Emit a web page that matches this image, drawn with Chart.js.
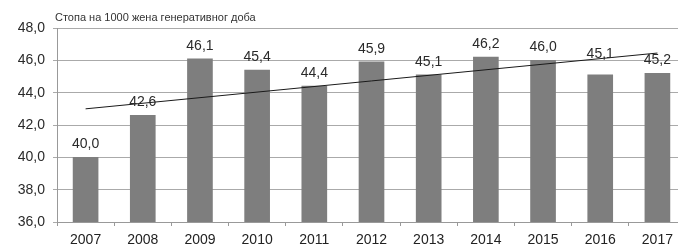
<!DOCTYPE html>
<html lang="sr">
<head>
  <meta charset="UTF-8" />
  <title>Стопа на 1000 жена генеративног доба</title>
  <script src="https://cdn.jsdelivr.net/npm/chart.js"></script>
  <style>
    html, body {
      margin: 0;
      padding: 0;
      background: #fff;
      overflow: hidden;
    }
    .chart-container {
      position: relative;
      width: 688px;
      height: 245px;
    }
  </style>
</head>
<body>
  <div class="chart-container">
    <canvas id="rateChart"></canvas>
  </div>

  <script>
    const chartTitle = 'Стопа на 1000 жена генеративног доба';
    const years = ['2007', '2008', '2009', '2010', '2011', '2012', '2013', '2014', '2015', '2016', '2017'];
    const rates = [40.0, 42.6, 46.1, 45.4, 44.4, 45.9, 45.1, 46.2, 46.0, 45.1, 45.2];
    // trend line ends (first and last year)
    const trend = [43.0, null, null, null, null, null, null, null, null, null, 46.45];
    const yTicks = [36, 38, 40, 42, 44, 46, 48];

    const fmt = v => v.toFixed(1).replace('.', ',');

    const textPlugin = {
      id: 'textPlugin',
      afterDatasetsDraw(chart) {
        const ctx = chart.ctx;
        const area = chart.chartArea;
        ctx.save();
        // title
        ctx.fillStyle = '#333';
        ctx.font = '11px "Liberation Sans", Arial, sans-serif';
        ctx.textAlign = 'left';
        ctx.textBaseline = 'alphabetic';
        ctx.fillText(chartTitle, area.left - 2, 21);
        // value labels
        const meta = chart.getDatasetMeta(0);
        ctx.font = '14px "Liberation Sans", Arial, sans-serif';
        ctx.textAlign = 'center';
        ctx.fillStyle = '#2a2a2a';
        meta.data.forEach((bar, i) => {
          const lift = i === 9 ? 8 : 0; // 2016 label sits higher in the original
          ctx.fillText(fmt(rates[i]), bar.x, bar.y - 9 - lift);
        });
        ctx.restore();
      }
    };

    const ctx = document.getElementById('rateChart').getContext('2d');
    new Chart(ctx, {
      data: {
        labels: years,
        datasets: [{
          type: 'bar',
          data: rates,
          order: 1,
          backgroundColor: c => {
            const el = c.element;
            if (!el || el.x === undefined) return '#7e7e7e';
            const w = 25;
            const g = c.chart.ctx.createLinearGradient(el.x - w / 2, 0, el.x + w / 2, 0);
            g.addColorStop(0, '#6c6c6c');
            g.addColorStop(0.5, '#858585');
            g.addColorStop(1, '#6c6c6c');
            return g;
          },
          borderWidth: 0,
          barThickness: 25
        }, {
          type: 'line',
          data: trend,
          order: 0,
          spanGaps: true,
          borderColor: '#1a1a1a',
          borderWidth: 1,
          pointRadius: 0,
          fill: false
        }]
      },
      options: {
        responsive: true,
        maintainAspectRatio: false,
        animation: false,
        layout: {
          padding: { top: 28, right: 2, left: 0, bottom: 0 }
        },
        plugins: {
          legend: { display: false },
          tooltip: { enabled: false }
        },
        scales: {
          x: {
            offset: true,
            grid: {
              offset: true,
              drawOnChartArea: false,
              tickLength: 4,
              color: '#999'
            },
            border: { color: '#999' },
            ticks: {
              color: '#222',
              padding: 6,
              font: { family: '"Liberation Sans", Arial, sans-serif', size: 14 }
            },
            afterFit: scale => { scale.height = 23; }
          },
          y: {
            min: 36,
            max: 48,
            afterBuildTicks: scale => {
              scale.ticks = yTicks.map(v => ({ value: v }));
            },
            grid: {
              color: '#aaa',
              tickLength: 4
            },
            border: { color: '#999' },
            ticks: {
              color: '#2a2a2a',
              padding: 8,
              callback: v => fmt(v),
              font: { family: '"Liberation Sans", Arial, sans-serif', size: 14 }
            },
            afterFit: scale => { scale.width = 57; }
          }
        }
      },
      plugins: [textPlugin]
    });
  </script>
</body>
</html>
